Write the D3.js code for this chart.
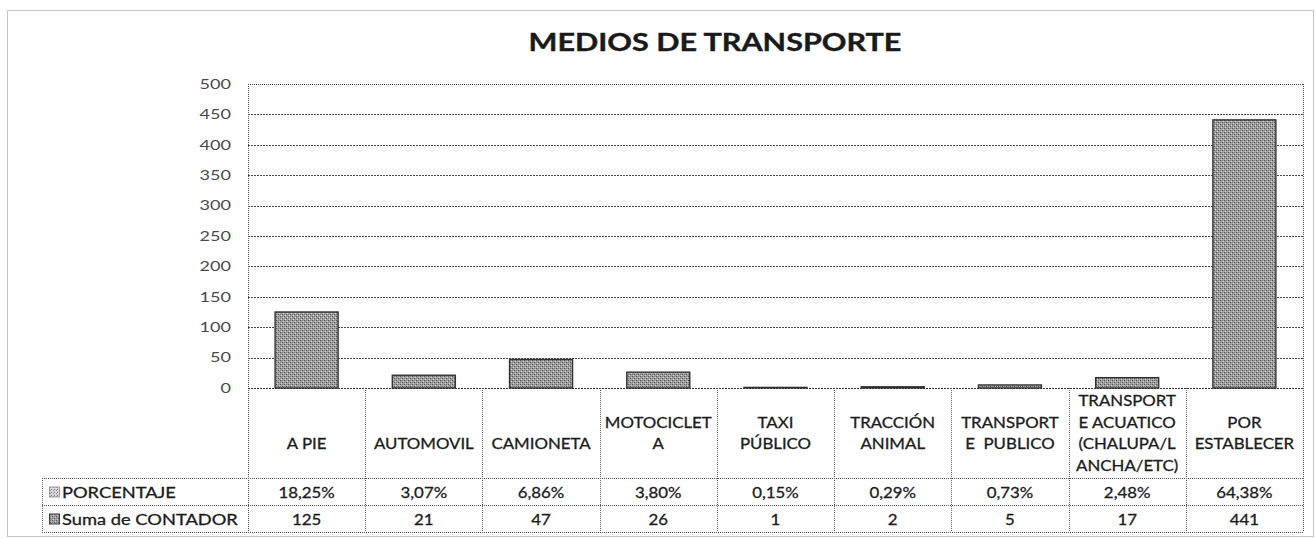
<!DOCTYPE html>
<html>
<head>
<meta charset="utf-8">
<script src="https://cdn.jsdelivr.net/npm/d3@7"></script>
<style>
  html, body { margin: 0; padding: 0; background: #fff; }
  svg { display: block; }
  text { white-space: pre; }
</style>
</head>
<body>
<svg id="chart" width="1315" height="539"></svg>
<script>
// ---------------- DATA ----------------
const chartTitle = "MEDIOS DE TRANSPORTE";
const categories = ["A PIE", "AUTOMOVIL", "CAMIONETA", "MOTOCICLETA", "TAXI PÚBLICO",
  "TRACCIÓN ANIMAL", "TRANSPORTE PUBLICO", "TRANSPORTE ACUATICO (CHALUPA/LANCHA/ETC)", "POR ESTABLECER"];
const categoryLines = [["A PIE"], ["AUTOMOVIL"], ["CAMIONETA"], ["MOTOCICLET", "A"], ["TAXI", "PÚBLICO"],
  ["TRACCIÓN", "ANIMAL"], ["TRANSPORT", "E  PUBLICO"], ["TRANSPORT", "E ACUATICO", "(CHALUPA/L", "ANCHA/ETC)"],
  ["POR", "ESTABLECER"]];
const porcentaje = [18.25, 3.07, 6.86, 3.80, 0.15, 0.29, 0.73, 2.48, 64.38];
const contador = [125, 21, 47, 26, 1, 2, 5, 17, 441];
const seriesNames = ["PORCENTAJE", "Suma de CONTADOR"];
const yTicks = [0, 50, 100, 150, 200, 250, 300, 350, 400, 450, 500];

// ---------------- LAYOUT ----------------
const FONT = "Lato, 'Open Sans', sans-serif";
const frame = { x0: 7, y0: 10, x1: 1313, y1: 536 };
const plot = { left: 248, right: 1303, top: 84, bottom: 388 };
const table = { legendLeft: 42, catBottom: 478, row1Bottom: 505, row2Bottom: 532 };
const lineH = 21.5;
const TFS = 15;

const svg = d3.select("#chart");

function measure(txt, size, weight) {
  const t = svg.append("text").attr("font-family", FONT).attr("font-size", size)
    .attr("font-weight", weight).text(txt);
  const w = t.node().getComputedTextLength();
  t.remove();
  return w;
}
const sxTable = 107 / measure("MOTOCICLET", TFS, 400);
const sxLegend = 176 / measure("Suma de CONTADOR", TFS, 400);
const sxTitle = 373 / measure(chartTitle, 25.5, 700);
const sxAxis = 31.5 / measure("500", 13.5, 400);

// pattern for bars
const defs = svg.append("defs");
const pat = defs.append("pattern").attr("id", "barPat").attr("width", 4).attr("height", 4)
  .attr("patternUnits", "userSpaceOnUse");
pat.append("rect").attr("width", 4).attr("height", 4).attr("fill", "#a0a0a0");
[[0,0,"#555"],[2,2,"#555"],[1,3,"#d0d0d0"],[3,1,"#d0d0d0"],[2,0,"#808080"],[0,2,"#808080"]].forEach(([x,y,c]) =>
  pat.append("rect").attr("x", x).attr("y", y).attr("width", 1).attr("height", 1).attr("fill", c));
const pat2 = defs.append("pattern").attr("id", "lightPat").attr("width", 3).attr("height", 3)
  .attr("patternUnits", "userSpaceOnUse");
pat2.append("rect").attr("width", 3).attr("height", 3).attr("fill", "#d8d8d8");
pat2.append("rect").attr("x", 0).attr("y", 0).attr("width", 1).attr("height", 1).attr("fill", "#777");
pat2.append("rect").attr("x", 2).attr("y", 1).attr("width", 1).attr("height", 1).attr("fill", "#999");

// ---------------- SCALES ----------------
const y = d3.scaleLinear().domain([0, 500]).range([plot.bottom, plot.top]);
const xCol = d3.scaleBand().domain(categories).range([plot.left, plot.right]).padding(0);
const xBar = d3.scaleBand().domain(categories).range([plot.left, plot.right])
  .paddingInner(0.4625).paddingOuter(0.23125);

const dotted = (sel, color, dash) => sel.attr("stroke", color).attr("stroke-width", 1)
  .attr("stroke-dasharray", dash || "2,1").attr("fill", "none");

// outer frame
dotted(svg.append("rect").attr("x", frame.x0 + 0.5).attr("y", frame.y0 + 0.5)
  .attr("width", frame.x1 - frame.x0).attr("height", frame.y1 - frame.y0), "#8a8a8a", "1,1");

// title
svg.append("text")
  .attr("transform", `translate(715,42) scale(${sxTitle},1)`)
  .attr("text-anchor", "middle").attr("dy", "0.36em")
  .attr("font-family", FONT).attr("font-size", 25.5).attr("font-weight", 700)
  .attr("fill", "#1a1a1a").attr("stroke", "#1a1a1a").attr("stroke-width", 0.4)
  .text(chartTitle);

// gridlines
svg.append("g").selectAll("line").data(yTicks.filter(d => d > 0 && d < 500)).join("line")
  .attr("x1", plot.left).attr("x2", plot.right)
  .attr("y1", d => Math.round(y(d)) + 0.5).attr("y2", d => Math.round(y(d)) + 0.5)
  .call(s => dotted(s, "#4a4a4a", "2,1"));

// plot border (top, left, right extend through table)
dotted(svg.append("line").attr("x1", plot.left).attr("x2", plot.right)
  .attr("y1", Math.round(y(500)) + 0.5).attr("y2", Math.round(y(500)) + 0.5), "#4a4a4a", "1,1");
dotted(svg.append("line").attr("x1", plot.left + 0.5).attr("x2", plot.left + 0.5)
  .attr("y1", y(500)).attr("y2", table.row2Bottom), "#555", "1,1");
dotted(svg.append("line").attr("x1", plot.right + 0.5).attr("x2", plot.right + 0.5)
  .attr("y1", y(500)).attr("y2", table.row2Bottom), "#555", "1,1");

// y axis
const yAxisG = svg.append("g").attr("transform", `translate(${plot.left},0)`)
  .call(d3.axisLeft(y).tickValues(yTicks).tickSize(0).tickPadding(17));
yAxisG.select(".domain").remove();
yAxisG.selectAll("text")
  .attr("x", -17 / sxAxis).attr("transform", `scale(${sxAxis},1)`)
  .attr("font-family", FONT).attr("font-size", 13.5).attr("fill", "#4a4a4a");

// bars (Suma de CONTADOR)
svg.append("g").selectAll("rect").data(categories).join("rect")
  .attr("x", d => xBar(d))
  .attr("width", xBar.bandwidth())
  .attr("y", (d, i) => y(contador[i]))
  .attr("height", (d, i) => y(0) - y(contador[i]))
  .attr("fill", "url(#barPat)")
  .attr("stroke", "#333").attr("stroke-width", 1.4);

// axis baseline
dotted(svg.append("line").attr("x1", plot.left).attr("x2", plot.right)
  .attr("y1", y(0) + 0.5).attr("y2", y(0) + 0.5), "#333", "2,1");

// ---------------- DATA TABLE ----------------
const tg = svg.append("g");
tg.selectAll("line.col").data(categories.slice(1)).join("line")
  .attr("x1", d => Math.round(xCol(d)) + 0.5).attr("x2", d => Math.round(xCol(d)) + 0.5)
  .attr("y1", y(0)).attr("y2", table.row2Bottom)
  .call(s => dotted(s, "#666", "1,1"));
[table.catBottom, table.row1Bottom, table.row2Bottom].forEach(yy =>
  dotted(tg.append("line").attr("x1", table.legendLeft).attr("x2", plot.right)
    .attr("y1", yy + 0.5).attr("y2", yy + 0.5), "#555", "1,1"));
dotted(tg.append("line").attr("x1", table.legendLeft + 0.5).attr("x2", table.legendLeft + 0.5)
  .attr("y1", table.catBottom).attr("y2", table.row2Bottom), "#666", "1,1");

function tText(g, txt, x, yy, anchor, sx) {
  return g.append("text")
    .attr("transform", `translate(${x},${yy}) scale(${sx || sxTable},1)`)
    .attr("text-anchor", anchor || "middle").attr("dy", "0.36em")
    .attr("font-family", FONT).attr("font-size", TFS)
    .attr("fill", "#1c1c1c").attr("stroke", "#1c1c1c").attr("stroke-width", 0.3)
    .text(txt);
}

// category labels
const catMid = (y(0) + table.catBottom) / 2;
categories.forEach((c, i) => {
  const lines = categoryLines[i];
  const n = lines.length;
  const cx = xCol(c) + xCol.bandwidth() / 2;
  lines.forEach((ln, j) => {
    const yy = n === 1 ? catMid + lineH / 2 : catMid + (j - (n - 1) / 2) * lineH;
    tText(tg, ln, cx, yy, "middle");
  });
});

// value rows
const fmtPct = v => v.toFixed(2).replace(".", ",") + "%";
const row1Mid = (table.catBottom + table.row1Bottom) / 2 + 1;
const row2Mid = (table.row1Bottom + table.row2Bottom) / 2 + 1;
categories.forEach((c, i) => {
  const cx = xCol(c) + xCol.bandwidth() / 2;
  tText(tg, fmtPct(porcentaje[i]), cx, row1Mid, "middle");
  tText(tg, String(contador[i]), cx, row2Mid, "middle");
});

// legend keys and names
tg.append("rect").attr("x", 49.5).attr("y", row1Mid - 5.5).attr("width", 10).attr("height", 10)
  .attr("fill", "url(#lightPat)").attr("stroke", "#888").attr("stroke-width", 0.8);
tg.append("rect").attr("x", 49.5).attr("y", row2Mid - 5.5).attr("width", 10).attr("height", 10)
  .attr("fill", "url(#barPat)").attr("stroke", "#3a3a3a").attr("stroke-width", 1);
tText(tg, seriesNames[0], 62, row1Mid, "start", sxLegend);
tText(tg, seriesNames[1], 62, row2Mid, "start", sxLegend);
</script>
</body>
</html>
